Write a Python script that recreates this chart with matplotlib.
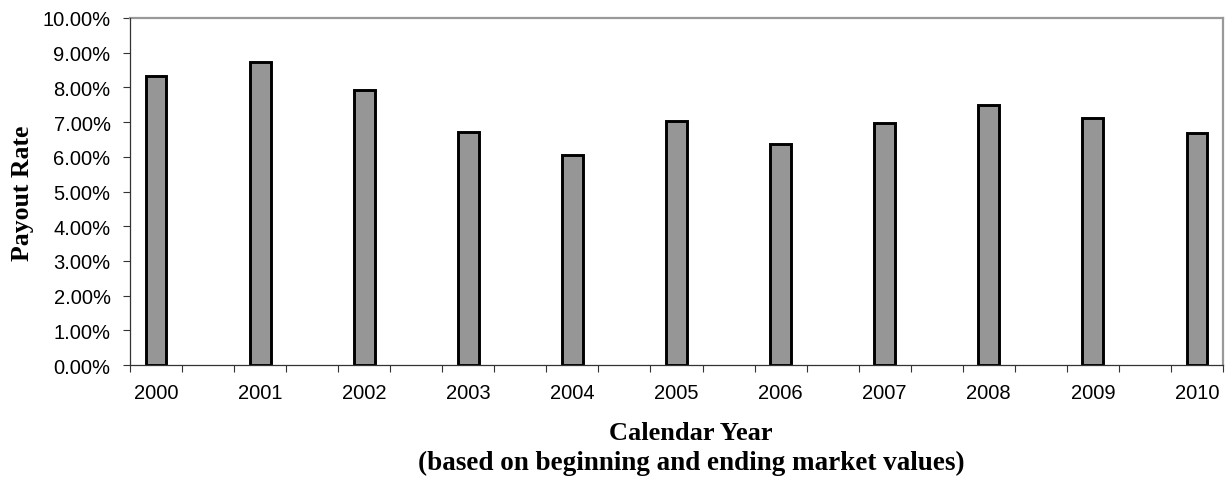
import matplotlib
matplotlib.use("Agg")
import matplotlib.pyplot as plt
import numpy as np
from matplotlib.ticker import FixedLocator, FuncFormatter

years = ["2000", "2001", "2002", "2003", "2004", "2005", "2006", "2007", "2008", "2009", "2010"]
payout_rate = [8.32, 8.74, 7.93, 6.72, 6.06, 7.02, 6.37, 6.98, 7.50, 7.12, 6.69]
y_ticks = [0, 1, 2, 3, 4, 5, 6, 7, 8, 9, 10]

plt.rcParams['font.family'] = ['Liberation Sans', 'DejaVu Sans']

fig = plt.figure(figsize=(12.3, 4.81), dpi=100)
ax = fig.add_axes([130/1230, 1-366/481, (1223-130)/1230, (366-19)/481])

x = np.arange(len(years)) * 2
ax.bar(x, payout_rate, width=0.40, color='#969696', edgecolor='black', linewidth=2.1, zorder=3)

ax.set_xlim(-0.5, 2*len(years) - 1.5)
ax.set_ylim(0, 10)

ax.set_xticks(x)
ax.set_xticklabels(years, fontsize=14.5)
ax.xaxis.set_minor_locator(FixedLocator(np.arange(-0.5, 2*len(years) - 1, 1.0)))
ax.tick_params(axis='x', which='major', length=0, pad=13)
ax.tick_params(axis='x', which='minor', length=5, width=0.8, color='#333333', direction='out')

ax.set_yticks(y_ticks)
ax.yaxis.set_major_formatter(FuncFormatter(lambda v, p: f"{v:.2f}%"))
ax.tick_params(axis='y', which='major', length=5, width=0.8, color='#333333', labelsize=14.5, pad=9, direction='out')

for s in ['top', 'right']:
    ax.spines[s].set_color('#999999')
    ax.spines[s].set_linewidth(1.6)
for s in ['left', 'bottom']:
    ax.spines[s].set_color('#333333')
    ax.spines[s].set_linewidth(0.9)
    ax.spines[s].set_zorder(4)

serif = ['Liberation Serif', 'DejaVu Serif']
fig.text(22/1230, 1-193/481, "Payout Rate", rotation=90, ha='center', va='center',
         fontsize=18.5, fontweight='bold', family=serif)
fig.text(691/1230, 1-440/481, "Calendar Year", ha='center', va='baseline',
         fontsize=19, fontweight='bold', family=serif)
fig.text(691/1230, 1-470/481, "(based on beginning and ending market values)", ha='center', va='baseline',
         fontsize=19.5, fontweight='bold', family=serif)

fig.savefig("out.png", dpi=100)
